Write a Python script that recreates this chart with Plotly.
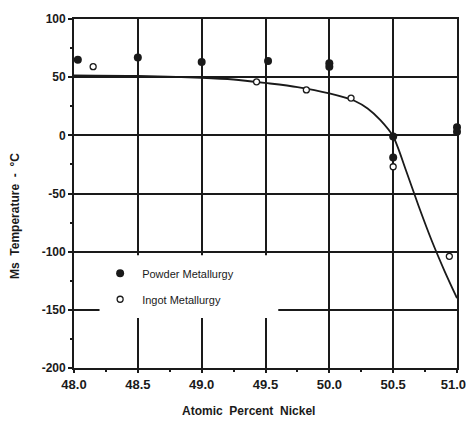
import plotly.graph_objects as go

# Data
powder_x = [48.03, 48.5, 49.0, 49.52, 50.0, 50.0, 50.5, 50.5, 51.0, 51.0]
powder_y = [65, 67, 63, 64, 62, 59, -1, -19, 7, 3]

ingot_x = [48.15, 49.43, 49.82, 50.17, 50.5, 50.94]
ingot_y = [59, 46, 39, 32, -27, -104]

curve_x = [48.0, 48.5, 49.0, 49.25, 49.5, 49.75, 50.0, 50.2, 50.3, 50.4, 50.5, 50.6, 50.7, 50.8, 50.9, 51.0]
curve_y = [51.5, 51, 49.5, 48, 45, 41.5, 36, 29.5, 23, 13, -1, -30, -61, -90, -116, -140]

x_ticks = [48.0, 48.5, 49.0, 49.5, 50.0, 50.5, 51.0]
x_ticklabels = ["48.0", "48.5", "49.0", "49.5", "50.0", "50.5", "51.0\u00a0\u00a0"]
y_ticks = [100, 50, 0, -50, -100, -150, -200]
y_ticklabels = ["100", "50", "0", "-50", "-100", "-150", "-200"]

ink = "#1a1a1a"
font_family = "Liberation Sans, Arial, sans-serif"

fig = go.Figure()

fig.add_trace(go.Scatter(
    x=curve_x, y=curve_y, mode="lines",
    line=dict(color=ink, width=1.8, shape="spline", smoothing=0.8),
    showlegend=False, hoverinfo="skip",
))

fig.add_trace(go.Scatter(
    x=powder_x, y=powder_y, mode="markers", name="Powder Metallurgy",
    marker=dict(symbol="circle", size=8, color=ink),
    legendgroup="p", cliponaxis=False,
))

fig.add_trace(go.Scatter(
    x=ingot_x, y=ingot_y, mode="markers", name="Ingot Metallurgy",
    marker=dict(symbol="circle", size=6, color="white", line=dict(color=ink, width=1.3)),
    legendgroup="i", cliponaxis=False,
))

# white background patch where the legend sits (grid lines are interrupted there)
fig.add_shape(type="rect", xref="x", yref="y", x0=48.2, x1=49.6, y0=-157, y1=-103,
              fillcolor="white", line=dict(width=0), layer="above")

fig.update_xaxes(
    range=[48.0, 51.0], tickvals=x_ticks, ticktext=x_ticklabels,
    showgrid=True, gridcolor=ink, gridwidth=1.5,
    showline=True, linecolor=ink, linewidth=1.8, mirror=True,
    ticks="outside", ticklen=3, tickcolor=ink, tickwidth=1.5,
    minor=dict(dtick=0.25, ticks="outside", ticklen=2, tickcolor=ink, showgrid=False),
    tickfont=dict(family=font_family, size=13, color=ink, weight="bold"),
    zeroline=False, automargin=False,
)
fig.update_yaxes(
    range=[-200, 100], tickvals=y_ticks, ticktext=y_ticklabels,
    showgrid=True, gridcolor=ink, gridwidth=1.5,
    showline=True, linecolor=ink, linewidth=1.8, mirror=True,
    ticks="outside", ticklen=4, tickcolor=ink, tickwidth=1.5,
    minor=dict(dtick=25, ticks="outside", ticklen=2, tickcolor=ink, showgrid=False),
    tickfont=dict(family=font_family, size=12, color=ink, weight="bold"),
    zeroline=False, automargin=False,
)

# the page body adds an 8px margin, so the figure is kept small enough to avoid scrollbars
fig.update_layout(
    width=466, height=410,
    margin=dict(l=66, r=17, t=11, b=50),
    plot_bgcolor="white", paper_bgcolor="white",
    showlegend=True,
    legend=dict(x=0.063, y=0.313, xanchor="left", yanchor="top",
                bgcolor="rgba(0,0,0,0)", traceorder="grouped", tracegroupgap=7,
                itemwidth=34,
                font=dict(family=font_family, size=11, color=ink)),
    annotations=[
        dict(text="Atomic  Percent  Nickel", xref="paper", yref="paper",
             x=(248 - 74) / 383, y=-(411 - 368) / 349, xanchor="center", yanchor="middle",
             showarrow=False, font=dict(family=font_family, size=12, color=ink, weight="bold")),
        dict(text="Ms  Temperature  -  °C", xref="paper", yref="paper", textangle=-90,
             x=-(74 - 15) / 383, y=(368 - 216) / 349, xanchor="center", yanchor="middle",
             showarrow=False, font=dict(family=font_family, size=12, color=ink, weight="bold")),
    ],
)

fig.write_html("out.html")
